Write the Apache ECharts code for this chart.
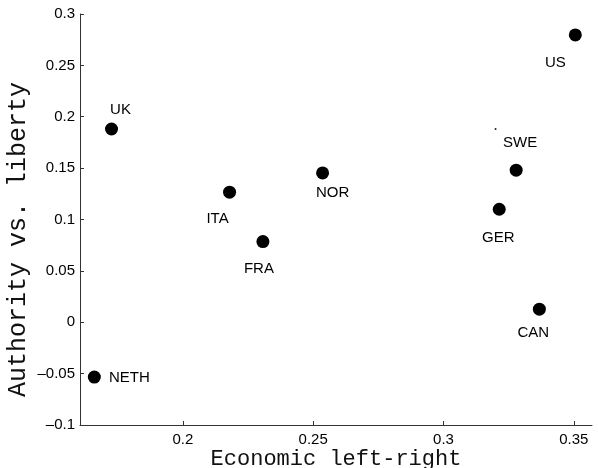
<!DOCTYPE html>
<html>
<head>
<meta charset="utf-8">
<script src="https://cdn.jsdelivr.net/npm/echarts@6/dist/echarts.min.js"></script>
<style>
  html, body { margin: 0; padding: 0; background: #fff; }
  #chart { width: 598px; height: 468px; }
</style>
</head>
<body>
<div id="chart"></div>
<script>
// countries and their scores
var countries = ['UK', 'ITA', 'FRA', 'NOR', 'SWE', 'GER', 'US', 'CAN', 'NETH']
var econ = [0.1726, 0.2179, 0.2307, 0.2536, 0.3279, 0.3214, 0.3506, 0.3368, 0.1660]
var liberty = [0.1881, 0.1266, 0.0785, 0.1453, 0.1480, 0.1100, 0.2796, 0.0127, -0.0534]
// stray speck in the figure
var speck = [[0.3200, 0.1880]]
var xTicks = [0.2, 0.25, 0.3, 0.35]

// label placement relative to the dot centre (px)
var labelOffset = {
  UK: [9, -19],
  ITA: [-12, 27],
  FRA: [-4, 27],
  NOR: [10, 20],
  SWE: [4, -27],
  GER: [-1, 29],
  US: [-20, 28],
  CAN: [-6, 24],
  NETH: [35, 1]
}

var fmt = function (v) {
  var s = String(Math.round(v * 1000) / 1000)
  return s.replace('-', '\u2013')
}

var points = countries.map(function (c, i) {
  return {
    name: c,
    value: [econ[i], liberty[i]],
    label: { offset: labelOffset[c] }
  }
})

var chart = echarts.init(document.getElementById('chart'))
chart.setOption({
  animation: false,
  grid: { left: 80, right: 6, top: 14, bottom: 43, outerBoundsMode: 'none' },
  xAxis: {
    type: 'value',
    min: 0.1605,
    max: 0.357,
    name: 'Economic left-right',
    nameLocation: 'middle',
    nameGap: 23,
    nameMoveOverlap: false,
    nameTextStyle: { fontFamily: 'Liberation Mono', fontSize: 22, color: '#111' },
    splitLine: { show: false },
    axisLine: { onZero: false, lineStyle: { color: '#333', width: 1 } },
    axisTick: { inside: true, length: 4, customValues: xTicks, lineStyle: { color: '#333' } },
    axisLabel: {
      customValues: xTicks,
      margin: 7,
      fontFamily: 'Liberation Sans',
      fontSize: 15,
      color: '#000',
      formatter: fmt
    }
  },
  yAxis: {
    type: 'value',
    min: -0.1,
    max: 0.3,
    interval: 0.05,
    name: 'Authority vs. liberty',
    nameLocation: 'middle',
    nameGap: 49,
    nameMoveOverlap: false,
    nameTextStyle: {
      fontFamily: 'Liberation Mono',
      fontSize: 25,
      color: '#111',
      padding: [0, 40, 0, 0]
    },
    splitLine: { show: false },
    axisLine: { onZero: false, lineStyle: { color: '#333', width: 1 } },
    axisTick: { inside: true, length: 4, lineStyle: { color: '#333' } },
    axisLabel: {
      margin: 5,
      fontFamily: 'Liberation Sans',
      fontSize: 15,
      color: '#000',
      formatter: fmt
    }
  },
  series: [
    {
      type: 'scatter',
      symbolSize: 13,
      itemStyle: { color: '#000', opacity: 1 },
      label: {
        show: true,
        position: 'inside',
        formatter: '{b}',
        fontFamily: 'Liberation Sans',
        fontSize: 15,
        color: '#000'
      },
      data: points
    },
    {
      type: 'scatter',
      symbolSize: 2,
      itemStyle: { color: '#222', opacity: 1 },
      data: speck
    }
  ]
})
</script>
</body>
</html>
